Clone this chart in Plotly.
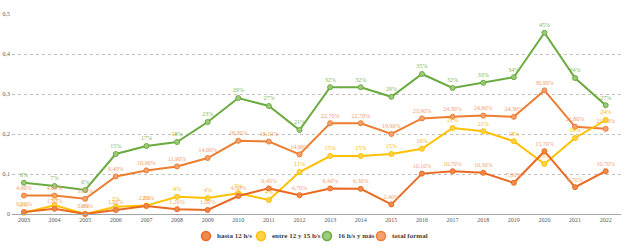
import plotly.graph_objects as go

years = [str(y) for y in range(2003, 2023)]

hasta12 = [0.005, 0.013, 0.0, 0.010, 0.020, 0.012, 0.010, 0.045, 0.064, 0.047,
           0.064, 0.063, 0.024, 0.101, 0.107, 0.103, 0.078, 0.157, 0.067, 0.107]
hasta12_lbl = ["0,50%", "1,30%", "0,00%", "1,00%", "2,00%", "1,20%", "1,00%", "4,50%", "6,40%", "4,70%",
               "6,40%", "6,30%", "2,40%", "10,10%", "10,70%", "10,30%", "7,80%", "15,70%", "6,70%", "10,70%"]

entre12_15 = [0.003, 0.022, 0.0, 0.018, 0.021, 0.043, 0.040, 0.052, 0.035, 0.105,
              0.145, 0.145, 0.150, 0.163, 0.215, 0.207, 0.182, 0.125, 0.190, 0.235]
entre12_15_lbl = ["0%", "2%", "0%", "2%", "2%", "4%", "4%", "5%", "4%", "11%",
                  "15%", "15%", "15%", "16%", "21%", "21%", "18%", "13%", "19%", "24%"]

mas16 = [0.078, 0.070, 0.060, 0.150, 0.170, 0.180, 0.230, 0.290, 0.270, 0.210,
         0.317, 0.317, 0.293, 0.350, 0.315, 0.328, 0.342, 0.453, 0.340, 0.272]
mas16_lbl = ["8%", "7%", "6%", "15%", "17%", "18%", "23%", "29%", "27%", "21%",
             "32%", "32%", "29%", "35%", "32%", "33%", "34%", "45%", "34%", "27%"]

total = [0.046, 0.046, 0.038, 0.094, 0.109, 0.119, 0.140, 0.183, 0.181, 0.149,
         0.227, 0.227, 0.200, 0.239, 0.243, 0.246, 0.243, 0.309, 0.218, 0.213]
total_lbl = ["4,60%", "4,60%", "3,80%", "9,40%", "10,90%", "11,90%", "14,00%", "18,30%", "18,10%", "14,90%",
             "22,70%", "22,70%", "19,90%", "23,90%", "24,30%", "24,60%", "24,30%", "30,90%", "21,80%", "21,30%"]

y_ticks = [0, 0.1, 0.2, 0.3, 0.4, 0.5]
y_tick_text = ["0", "0,1", "0,2", "0,3", "0,4", "0,5"]

series = [
    ("hasta 12 h/s", hasta12, hasta12_lbl, "#EA6A22", "#F08A4B", "#F4A26E"),
    ("entre 12 y 15 h/s", entre12_15, entre12_15_lbl, "#FFC000", "#FFD24D", "#F5B800"),
    ("16 h/s y más", mas16, mas16_lbl, "#6AAA3E", "#9CCB7A", "#7DB85A"),
    ("total formal", total, total_lbl, "#ED7D31", "#F4A070", "#F49A6A"),
]

fig = go.Figure()
for idx in [2, 3, 1, 0]:
    name, vals, lbls, lc, mc, tc = series[idx]
    fig.add_trace(go.Scatter(
        x=years, y=vals, mode="lines+markers+text", name=name,
        text=lbls, textposition="top center",
        textfont=dict(size=6, color=tc, family="Liberation Serif"),
        line=dict(color=lc, width=2),
        marker=dict(size=5, color=mc, line=dict(color=lc, width=1)),
        showlegend=False, cliponaxis=False,
    ))

# Plot area geometry (pixels) used to place the custom legend
L, R, T, B = 12, 5, 14, 38
W, H = 626 - L - R, 252 - T - B
legend_marker_px = [206, 261, 327, 381]
legend_y_px = 236
for (name, vals, lbls, lc, mc, tc), mx in zip(series, legend_marker_px):
    xp = (mx - L) / W
    yp = (252 - B - legend_y_px) / H
    fig.add_shape(type="circle", xref="paper", yref="paper",
                  xsizemode="pixel", ysizemode="pixel", xanchor=xp, yanchor=yp,
                  x0=-4.5, x1=4.5, y0=-4.5, y1=4.5,
                  fillcolor=mc, line=dict(color=lc, width=1.5))
    fig.add_annotation(xref="paper", yref="paper", x=xp, y=yp, xshift=9,
                       xanchor="left", yanchor="middle", showarrow=False,
                       text="<b>%s</b>" % name,
                       font=dict(size=7, family="Liberation Serif", color="#404040"))

fig.update_layout(
    width=626, height=252,
    margin=dict(l=L, r=R, t=T, b=B, autoexpand=False),
    paper_bgcolor="white", plot_bgcolor="white",
    font=dict(family="Liberation Serif", size=7, color="#404040"),
    showlegend=False,
    xaxis=dict(type="category", range=[-0.39, 19.5], showgrid=False, showline=True,
               linecolor="#A6A6A6", linewidth=1, ticks="", automargin=False,
               tickfont=dict(size=6, color="#595959")),
    yaxis=dict(range=[0, 0.5], tickvals=y_ticks, ticktext=y_tick_text,
               showgrid=True, gridcolor="#BFBFBF", griddash="dot", gridwidth=1,
               zeroline=False, showline=False, automargin=False, ticklabelstandoff=1,
               tickfont=dict(size=6, color="#595959")),
)

fig.write_html("out.html", config={"displayModeBar": False},
               post_script="document.body.style.margin='0';document.body.style.overflow='hidden';")
